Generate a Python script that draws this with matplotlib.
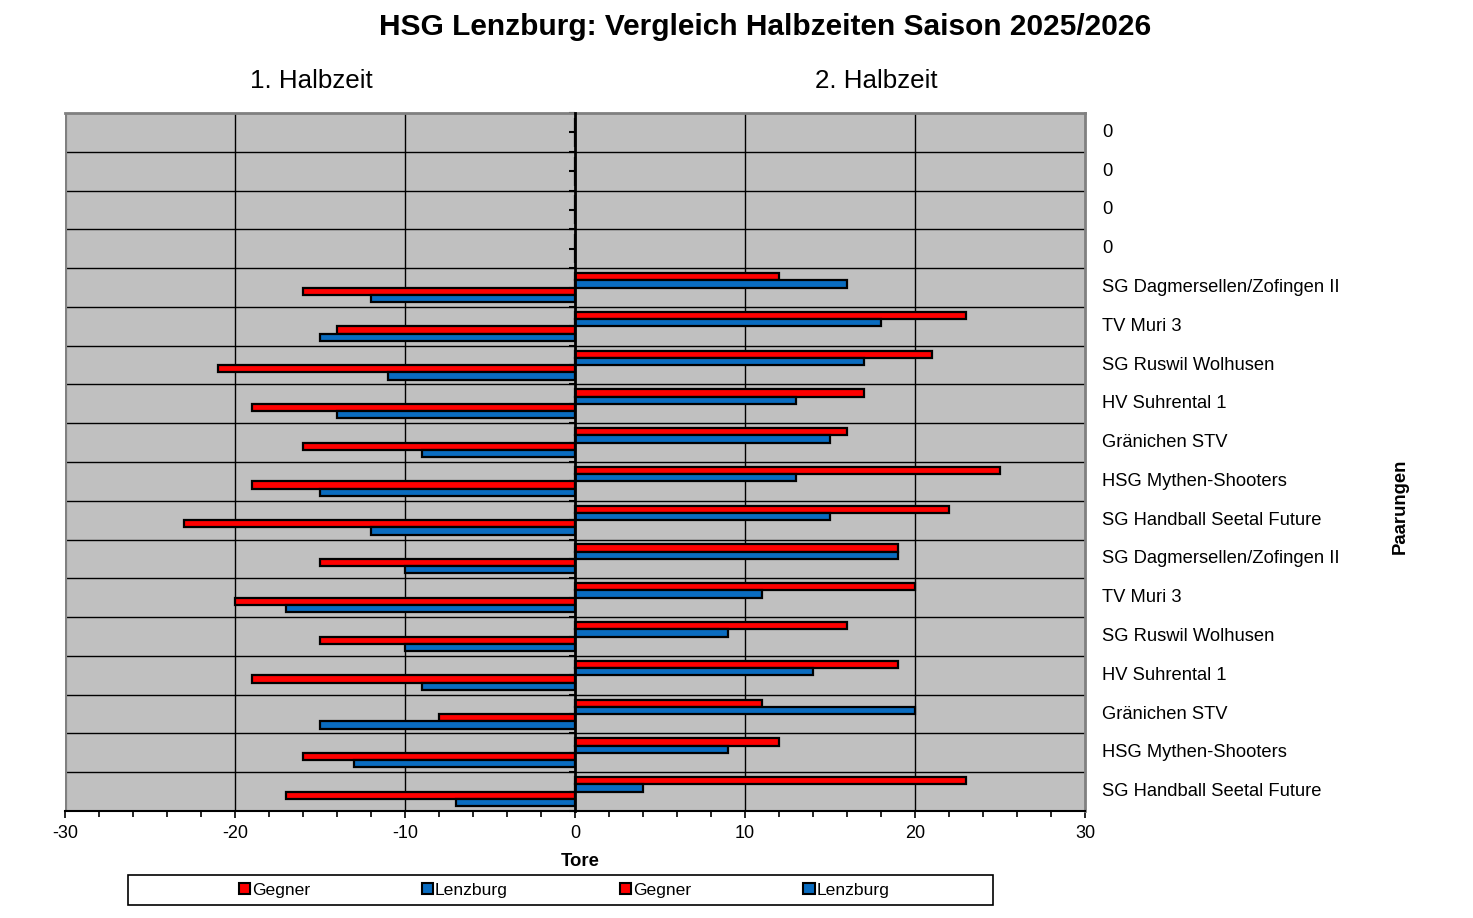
import matplotlib
matplotlib.use("Agg")
import matplotlib.pyplot as plt
import numpy as np
from matplotlib.patches import Patch, Rectangle
from matplotlib.transforms import blended_transform_factory

plt.rcParams['font.family'] = ['Liberation Sans', 'DejaVu Sans']

# ---- data (top row first) ----
categories = ["0", "0", "0", "0",
              "SG Dagmersellen/Zofingen II", "TV Muri 3", "SG Ruswil Wolhusen",
              "HV Suhrental 1", "Gränichen STV", "HSG Mythen-Shooters",
              "SG Handball Seetal Future",
              "SG Dagmersellen/Zofingen II", "TV Muri 3", "SG Ruswil Wolhusen",
              "HV Suhrental 1", "Gränichen STV", "HSG Mythen-Shooters",
              "SG Handball Seetal Future"]
h2_gegner = [0, 0, 0, 0, 12, 23, 21, 17, 16, 25, 22, 19, 20, 16, 19, 11, 12, 23]
h2_lenzburg = [0, 0, 0, 0, 16, 18, 17, 13, 15, 13, 15, 19, 11, 9, 14, 20, 9, 4]
h1_gegner = [0, 0, 0, 0, 16, 14, 21, 19, 16, 19, 23, 15, 20, 15, 19, 8, 16, 17]
h1_lenzburg = [0, 0, 0, 0, 12, 15, 11, 14, 9, 15, 12, 10, 17, 10, 9, 15, 13, 7]
legend_labels = ["Gegner", "Lenzburg", "Gegner", "Lenzburg"]
x_ticks = [-30, -20, -10, 0, 10, 20, 30]

RED = "#FF0000"
BLUE = "#0A6CC0"
GRAY_BG = "#C0C0C0"
BORDER = "#808080"

W, H = 1473, 918
fig = plt.figure(figsize=(W / 100, H / 100), dpi=100)
ax = fig.add_axes([65 / W, 1 - 811 / H, (1085 - 65) / W, (811 - 113) / H])
ax.set_facecolor(GRAY_BG)

n = len(categories)
y = np.arange(n)
bh = 0.187
ew = 1.6
ax.barh(y - 1.5 * bh, h2_gegner, height=bh, color=RED, edgecolor="black", linewidth=ew, zorder=3)
ax.barh(y - 0.5 * bh, h2_lenzburg, height=bh, color=BLUE, edgecolor="black", linewidth=ew, zorder=3)
ax.barh(y + 0.5 * bh, -np.array(h1_gegner), height=bh, color=RED, edgecolor="black", linewidth=ew, zorder=3)
ax.barh(y + 1.5 * bh, -np.array(h1_lenzburg), height=bh, color=BLUE, edgecolor="black", linewidth=ew, zorder=3)

ax.set_xlim(-30, 30)
ax.set_ylim(n - 0.5, -0.5)

# grid lines
for xv in [-20, -10, 10, 20]:
    ax.axvline(xv, color="black", linewidth=1.0, zorder=1)
for b in np.arange(0.5, n - 0.5, 1.0):
    ax.axhline(b, color="black", linewidth=1.0, zorder=1)

# spines
ax.spines['left'].set_position(('data', 0))
ax.spines['left'].set_color("black")
ax.spines['left'].set_linewidth(2.0)
ax.spines['left'].set_zorder(4)
for s in ['top', 'right']:
    ax.spines[s].set_color(BORDER)
    ax.spines[s].set_linewidth(2.0)
ax.spines['bottom'].set_color("black")
ax.spines['bottom'].set_linewidth(1.5)
ax.axvline(-30, color=BORDER, linewidth=3.0, zorder=2)

# y ticks on the center axis
ax.set_yticks(np.arange(-0.5, n, 1.0))
ax.set_yticks(np.arange(0, n, 1.0), minor=True)
ax.set_yticklabels([])
ax.tick_params(axis='y', which='both', direction='out', length=4, width=1.5, color="black")

# x ticks
ax.set_xticks(x_ticks)
ax.set_xticklabels([str(v) for v in x_ticks], fontsize=13)
ax.set_xticks(np.arange(-30, 31, 2), minor=True)
ax.tick_params(axis='x', which='major', direction='out', length=5, width=1.2, pad=5)
ax.tick_params(axis='x', which='minor', direction='out', length=4, width=1.2)

# category labels on the right
tr = blended_transform_factory(ax.transAxes, ax.transData)
for i, c in enumerate(categories):
    ax.text((1102 - 65) / (1085 - 65), i, c, transform=tr, ha="left", va="center", fontsize=13.2)

# texts
fig.text(765 / W, 1 - 27 / H, "HSG Lenzburg: Vergleich Halbzeiten Saison 2025/2026",
         ha="center", va="center", fontsize=21.5, fontweight="bold")
fig.text(311 / W, 1 - 81 / H, "1. Halbzeit", ha="center", va="center", fontsize=18.7)
fig.text(876 / W, 1 - 81 / H, "2. Halbzeit", ha="center", va="center", fontsize=18.7)
fig.text(580 / W, 1 - 862 / H, "Tore", ha="center", va="center", fontsize=13.3, fontweight="bold")
fig.text(1400 / W, 1 - 506 / H, "Paarungen", ha="center", va="center", fontsize=13.3,
         fontweight="bold", rotation=90)

# legend
fig.patches.append(Rectangle((128 / W, 1 - 905 / H), (993 - 128) / W, 30 / H,
                             transform=fig.transFigure, facecolor="white",
                             edgecolor="black", linewidth=1.2, zorder=0))
handles = [Patch(facecolor=RED, edgecolor="black", linewidth=1.5),
           Patch(facecolor=BLUE, edgecolor="black", linewidth=1.5),
           Patch(facecolor=RED, edgecolor="black", linewidth=1.5),
           Patch(facecolor=BLUE, edgecolor="black", linewidth=1.5)]
fig.legend(handles, legend_labels, loc="center", bbox_to_anchor=(564 / W, 1 - 890 / H),
           ncol=4, frameon=False, fontsize=12.6, handlelength=0.65, handleheight=0.65,
           handletextpad=0.1, columnspacing=6.4, borderpad=0)

fig.savefig("out.png", dpi=100)
